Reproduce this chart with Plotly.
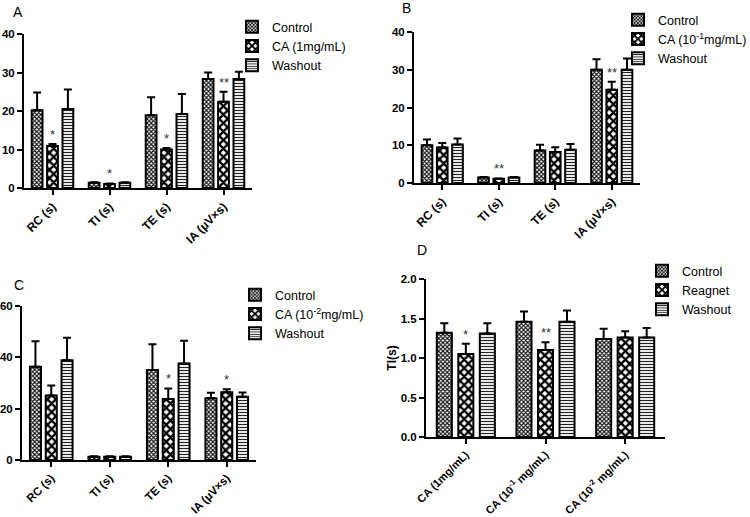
import plotly.graph_objects as go

# ---------------- data ----------------
cats_abc = ["RC (s)", "TI (s)", "TE (s)", "IA (μV×s)"]
cats_d = ["CA (1mg/mL)", "CA (10<sup>-1</sup> mg/mL)", "CA (10<sup>-2</sup> mg/mL)"]

A_control = [20.2, 1.35, 18.9, 28.3]
A_control_sem = [4.6, 0.15, 4.7, 1.7]
A_ca = [10.9, 1.05, 10.0, 22.4]
A_ca_sem = [0.5, 0.15, 0.4, 2.6]
A_wash = [20.5, 1.35, 19.2, 28.3]
A_wash_sem = [5.1, 0.15, 5.2, 1.9]
A_stars = ["*", "*", "*", "**"]

B_control = [10.0, 1.45, 8.6, 30.0]
B_control_sem = [1.5, 0.15, 1.5, 2.8]
B_ca = [9.4, 1.1, 8.2, 24.7]
B_ca_sem = [1.2, 0.1, 1.3, 2.1]
B_wash = [10.2, 1.45, 8.8, 30.0]
B_wash_sem = [1.6, 0.15, 1.5, 3.0]
B_stars = ["", "**", "", "**"]

C_control = [36.3, 1.3, 35.1, 24.1]
C_control_sem = [10.0, 0.2, 10.0, 2.1]
C_ca = [25.1, 1.3, 23.8, 26.4]
C_ca_sem = [3.9, 0.2, 4.1, 1.2]
C_wash = [38.9, 1.3, 37.6, 24.6]
C_wash_sem = [8.7, 0.2, 8.9, 1.7]
C_stars = ["", "", "*", "*"]

D_control = [1.32, 1.46, 1.24]
D_control_sem = [0.12, 0.13, 0.13]
D_reag = [1.05, 1.10, 1.26]
D_reag_sem = [0.13, 0.10, 0.08]
D_wash = [1.31, 1.46, 1.26]
D_wash_sem = [0.13, 0.14, 0.12]
D_stars = ["*", "**", ""]

# ---------------- styles ----------------
FONT = "Liberation Sans, Arial, sans-serif"
PAT = {
    "control": dict(shape="x", size=3, solidity=0.6, fgcolor="#111", bgcolor="white"),
    "ca": dict(shape="x", size=6, solidity=0.62, fgcolor="black", bgcolor="white"),
    "wash": dict(shape="-", size=3, solidity=0.4, fgcolor="#222", bgcolor="white"),
}

fig = go.Figure()

panels = [
    ("A", cats_abc,
     [("Control", A_control, A_control_sem, "control"),
      ("CA (1mg/mL)", A_ca, A_ca_sem, "ca"),
      ("Washout", A_wash, A_wash_sem, "wash")],
     A_stars, "x", "y", "legend"),
    ("B", cats_abc,
     [("Control", B_control, B_control_sem, "control"),
      ("CA (10<sup>-1</sup>mg/mL)", B_ca, B_ca_sem, "ca"),
      ("Washout", B_wash, B_wash_sem, "wash")],
     B_stars, "x2", "y2", "legend2"),
    ("C", cats_abc,
     [("Control", C_control, C_control_sem, "control"),
      ("CA (10<sup>-2</sup>mg/mL)", C_ca, C_ca_sem, "ca"),
      ("Washout", C_wash, C_wash_sem, "wash")],
     C_stars, "x3", "y3", "legend3"),
    ("D", cats_d,
     [("Control", D_control, D_control_sem, "control"),
      ("Reagnet", D_reag, D_reag_sem, "ca"),
      ("Washout", D_wash, D_wash_sem, "wash")],
     D_stars, "x4", "y4", "legend4"),
]

for name, cats, series, stars, xa, ya, lg in panels:
    for label, vals, sem, key in series:
        fig.add_trace(go.Bar(
            x=cats, y=vals, name=label, xaxis=xa, yaxis=ya, legend=lg,
            offsetgroup=key,
            marker=dict(color="white", line=dict(color="black", width=2),
                        pattern=PAT[key]),
            error_y=dict(type="data", symmetric=False, array=sem,
                         arrayminus=[0] * len(sem), color="black",
                         thickness=2, width=4),
        ))
    ca_vals, ca_sem = series[1][1], series[1][2]
    for c, v, s, st in zip(cats, ca_vals, ca_sem, stars):
        if st:
            fig.add_annotation(x=c, y=v + s, xref=xa, yref=ya, text=st,
                               showarrow=False, yanchor="bottom", yshift=0,
                               font=dict(family=FONT, size=13, color="#333"))

W, H = 750, 517
def px_x(p):
    return p / W
def px_y(p):
    return 1 - p / H

axis_common = dict(showline=True, linecolor="black", linewidth=2, ticks="outside",
                   ticklen=5, tickwidth=2, tickcolor="black", showgrid=False,
                   zeroline=False, automargin=False)
yfont = dict(family=FONT, size=11.5, color="black", weight="bold")
xfont = dict(family=FONT, size=12, color="black", weight="bold")

doms = {
    "": ((24, 252), (188, 34), [0, 40], 10),
    "2": ((414, 640), (183, 32), [0, 40], 10),
    "3": ((22, 256), (460, 306), [0, 60], 20),
    "4": ((426, 665), (437, 279), [0, 2], 0.5),
}
for suf, ((x0, x1), (yb, yt), rng, dt) in doms.items():
    xk, yk = "xaxis" + suf, "yaxis" + suf
    fig.layout[xk] = dict(domain=[px_x(x0), px_x(x1)], anchor="y" + suf,
                          tickangle=-45, tickfont=xfont, **axis_common)
    fig.layout[yk] = dict(domain=[px_y(yb), px_y(yt)], anchor="x" + suf,
                          range=rng, dtick=dt, tickfont=yfont, **axis_common)
fig.layout.xaxis4.tickfont.size = 11
fig.layout.xaxis3.tickfont.size = 11.5
fig.layout.yaxis4.tickformat = ".1f"
fig.layout.yaxis4.title = dict(text="TI(s)", font=dict(family=FONT, size=12, color="black", weight="bold"), standoff=2)

legend_common = dict(font=dict(family=FONT, size=12.5, color="black"), bgcolor="rgba(0,0,0,0)",
                     traceorder="normal", itemwidth=30, tracegroupgap=0,
                     xanchor="left", yanchor="top", xref="container", yref="container")
fig.update_layout(
    legend=dict(x=px_x(232), y=px_y(12), **legend_common),
    legend2=dict(x=px_x(618), y=px_y(5), **legend_common),
    legend3=dict(x=px_x(235), y=px_y(280), **legend_common),
    legend4=dict(x=px_x(642), y=px_y(256), **legend_common),
)

for txt, x, y in [("A", 18, 12), ("B", 406, 8), ("C", 19, 285), ("D", 422, 250)]:
    fig.add_annotation(text=txt, x=px_x(x), y=px_y(y), xref="paper", yref="paper",
                       xanchor="center", yanchor="middle",
                       showarrow=False, font=dict(family=FONT, size=14, color="black"))

fig.update_layout(
    template="none",
    width=W, height=H, margin=dict(l=0, r=0, t=0, b=0, pad=0, autoexpand=False),
    paper_bgcolor="white", plot_bgcolor="white",
    barmode="group", bargap=0.19, bargroupgap=0.3,
    showlegend=True,
)

fig.write_html("out.html", config={"displayModeBar": False},
               post_script="document.body.style.margin='0';")
